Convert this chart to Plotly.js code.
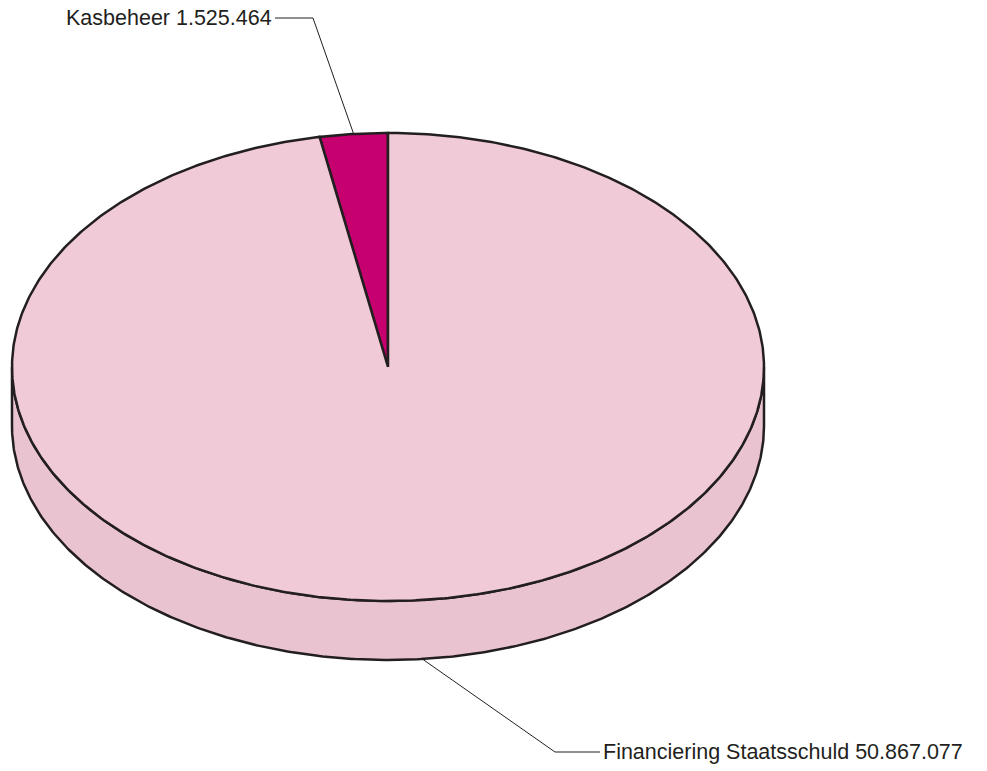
<!DOCTYPE html>
<html><head><meta charset="utf-8">
<script src="https://cdn.plot.ly/plotly-3.0.1.min.js"></script>
<style>body{margin:0;background:#fff}#c{width:987px;height:771px}</style>
</head><body><div id="c"></div>
<script>
// Data
const labels = ["Kasbeheer", "Financiering Staatsschuld"];
const values = [1525464, 50867077];
const valueText = ["1.525.464", "50.867.077"];

// Geometry / style (layout, not data)
const CX = 388, CY = 367, RX = 376, RY = 234, DEPTH = 59;
const topColors = ["#C6006F", "#F0CAD7"];
const sideColor = "#E9C3D0";
const edge = "#231F20";

const total = values.reduce((a, b) => a + b, 0);
function pt(deg, dy) {
  const r = deg * Math.PI / 180;
  return [CX + RX * Math.cos(r), CY - RY * Math.sin(r) + (dy || 0)];
}
function arc(a0, a1, dy, n) {
  const xs = [], ys = [];
  n = n || Math.max(8, Math.ceil(Math.abs(a1 - a0) * 2));
  for (let i = 0; i <= n; i++) {
    const p = pt(a0 + (a1 - a0) * i / n, dy);
    xs.push(p[0]); ys.push(p[1]);
  }
  return [xs, ys];
}

const traces = [];
// Side wall (front half)
{
  const [x1, y1] = arc(180, 360, 0);
  const [x2, y2] = arc(360, 180, DEPTH);
  traces.push({
    type: "scatter", mode: "lines", x: x1.concat(x2, [x1[0]]), y: y1.concat(y2, [y1[0]]),
    fill: "toself", fillcolor: sideColor, line: { color: edge, width: 2.5 }, hoverinfo: "skip"
  });
}
// Top slices: start at 12 o'clock, counter-clockwise
let start = 90;
const mids = [];
values.forEach((v, i) => {
  const sweep = v / total * 360;
  const [xs, ys] = arc(start, start + sweep, 0);
  traces.push({
    type: "scatter", mode: "lines",
    x: [CX].concat(xs, [CX]), y: [CY].concat(ys, [CY]),
    fill: "toself", fillcolor: topColors[i], line: { color: edge, width: 2.5 },
    name: labels[i], hoverinfo: "name"
  });
  mids.push(start + sweep / 2);
  start += sweep;
});

// Leader lines + labels
const annotations = [];
const fnt = { family: "Liberation Sans, Arial, sans-serif", size: 21.5, color: edge };
// Kasbeheer (back, top)
{
  const p = pt(mids[0], 0);
  const ly = 18, bendX = 313, endX = 275;
  traces.push({ type: "scatter", mode: "lines", x: [p[0], bendX, endX], y: [p[1], ly, ly],
    line: { color: edge, width: 1 }, hoverinfo: "skip" });
  annotations.push({ x: endX - 1, y: ly, xref: "x", yref: "y", xanchor: "right", yanchor: "middle",
    text: labels[0] + " " + valueText[0], showarrow: false, font: fnt });
}
// Financiering (front, bottom of wall)
{
  const p = pt(mids[1], DEPTH);
  const ly = 752, bendX = 555, endX = 600;
  traces.push({ type: "scatter", mode: "lines", x: [p[0], bendX, endX], y: [p[1], ly, ly],
    line: { color: edge, width: 1 }, hoverinfo: "skip" });
  annotations.push({ x: endX + 1, y: ly, xref: "x", yref: "y", xanchor: "left", yanchor: "middle",
    text: labels[1] + " " + valueText[1], showarrow: false, font: fnt });
}

Plotly.newPlot("c", traces, {
  width: 987, height: 771, margin: { l: 0, r: 0, t: 0, b: 0 },
  paper_bgcolor: "#fff", plot_bgcolor: "#fff", showlegend: false,
  xaxis: { range: [0, 987], visible: false, fixedrange: true },
  yaxis: { range: [771, 0], visible: false, fixedrange: true },
  annotations: annotations
}, { staticPlot: true });
</script></body></html>
